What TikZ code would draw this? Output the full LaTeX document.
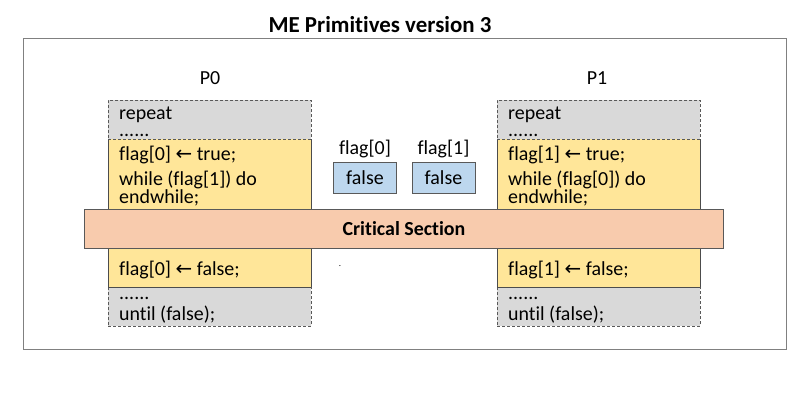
\documentclass[tikz,border=0pt]{standalone}
\usepackage{fontspec}
\setmainfont{Carlito}[Ligatures={NoCommon,NoRequired}]
\newfontfamily\arrowfont{DejaVu Sans}
\usetikzlibrary{positioning}

\definecolor{boxgray}{HTML}{D9D9D9}
\definecolor{boxyellow}{HTML}{FFE699}
\definecolor{boxorange}{HTML}{F8CBAD}
\definecolor{boxblue}{HTML}{BDD7EE}
\definecolor{edgegray}{HTML}{595959}

\newcommand{\larr}{{\arrowfont\fontsize{20}{24}\selectfont ←}}

\begin{document}
\begin{tikzpicture}[
  x=1bp, y=-1bp,
  font=\fontsize{20}{24}\selectfont,
  frame/.style={draw=black!50, line width=0.9pt},
  graybox/.style={rectangle, draw=edgegray, dashed, dash pattern=on 3bp off 2bp, line width=0.8pt, fill=boxgray, minimum width=203bp, minimum height=39bp, inner sep=0, anchor=north west},
  yellowbox/.style={rectangle, fill=boxyellow, minimum width=203bp, minimum height=148bp, inner sep=0, anchor=north west},
  yellowedge/.style={draw=edgegray!85!black, line width=1pt},
  critbox/.style={rectangle, draw=edgegray, line width=1pt, fill=boxorange, minimum width=638bp, minimum height=39bp, font=\fontsize{20}{24}\selectfont\bfseries},
  flagbox/.style={rectangle, draw=edgegray, line width=1pt, fill=boxblue, minimum width=63bp, minimum height=31bp, inner sep=0},
  code/.style={anchor=base west, inner sep=0},
  label/.style={anchor=base, inner sep=0}
]
\useasboundingbox (0,0) rectangle (807,395);

% Title and frame
\node[label, font=\fontsize{23}{28}\selectfont\bfseries] (title) at (380,32) {ME Primit\kern0pt ives version 3};
\draw[frame] (23,38) rectangle (786,349);

% Process P0
\node[label] (p0name) at (210,84) {P0};
\node[yellowbox] (p0mid) at (108,139) {};
\draw[yellowedge] (p0mid.north west) -- (p0mid.south west) -- (p0mid.south east) -- (p0mid.north east);
\node[graybox] (p0top) at (108,100) {};
\node[graybox] (p0bot) at (108,287) {};
\draw[yellowedge] (p0mid.south west) -- (p0mid.south east);

% Process P1
\node[label] (p1name) at (597,84) {P1};
\node[yellowbox] (p1mid) at (497,139) {};
\draw[yellowedge] (p1mid.north west) -- (p1mid.south west) -- (p1mid.south east) -- (p1mid.north east);
\node[graybox] (p1top) at (497,100) {};
\node[graybox] (p1bot) at (497,287) {};
\draw[yellowedge] (p1mid.south west) -- (p1mid.south east);

% Code of P0
\node[code] (p0rep) at (119,119) {repeat};
\node[code] (p0dots) at (119,136) {......};
\node[code] (p0set) at (119,160) {flag[0] \larr{} true;};
\node[code] (p0while) at (119,185) {while (flag[1]) do};
\node[code] (p0end) at (119,203) {endwhile;};
\node[code] (p0reset) at (119,275) {flag[0] \larr{} false;};
\node[code] (p0dots2) at (119,299) {......};
\node[code] (p0until) at (119,320) {until (false);};

% Code of P1
\node[code] (p1rep) at (508,119) {repeat};
\node[code] (p1dots) at (508,136) {......};
\node[code] (p1set) at (508,160) {flag[1] \larr{} true;};
\node[code] (p1while) at (508,185) {while (flag[0]) do};
\node[code] (p1end) at (508,203) {endwhile;};
\node[code] (p1reset) at (508,275) {flag[1] \larr{} false;};
\node[code] (p1dots2) at (508,299) {......};
\node[code] (p1until) at (508,320) {until (false);};

% Shared flags
\node[flagbox] (f0) at (365,177.5) {false};
\node[flagbox] (f1) at (443.5,177.5) {false};
\node[above=3bp of f0, inner sep=0] (f0name) {flag[0]};
\node[above=3bp of f1, inner sep=0] (f1name) {flag[1]};

% Critical section bar
\node[critbox] (crit) at (404,228.5) {Crit\kern0pt ical Sect\kern0pt ion};
\node[label, font=\fontsize{9}{10}\selectfont] (dot) at (340,266) {.};

\end{tikzpicture}
\end{document}
